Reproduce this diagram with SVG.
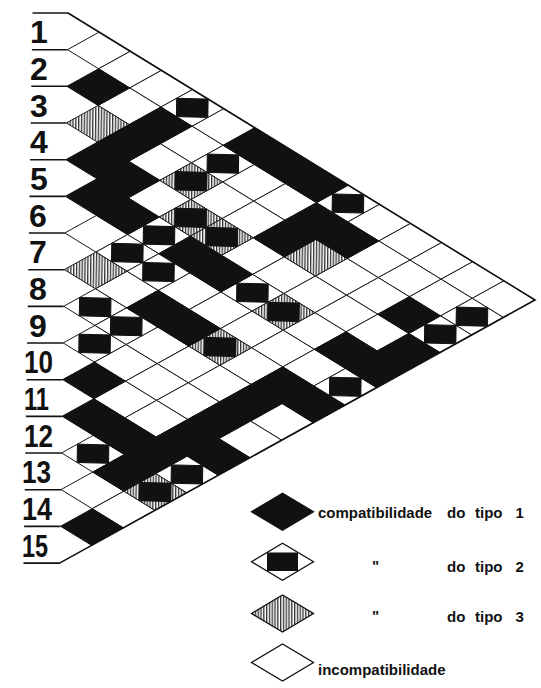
<svg xmlns="http://www.w3.org/2000/svg" xmlns:xlink="http://www.w3.org/1999/xlink" width="541" height="688" viewBox="0 0 541 688">
<style>
.w{fill:#fff;stroke:#1a1a1a}
.b{fill:#111;stroke:#111}
.h{fill:url(#hg);stroke:#1a1a1a}
.r{fill:#111;stroke:#111}
.edge{fill:none;stroke:#111;stroke-width:1.6}
.ll{stroke:#111;stroke-width:1.6}
.lab{font-family:"Liberation Sans",Arial,sans-serif;font-weight:bold;font-size:32px;fill:#111}
.leg{font-family:"Liberation Sans",Arial,sans-serif;font-weight:bold;font-size:15px;fill:#111}
.lw{fill:#fff;stroke:#111;stroke-width:1.3}
.lb{fill:#111;stroke:#111;stroke-width:1.3}
.lh{fill:url(#hl);stroke:#111;stroke-width:1.3}
</style>
<defs>
<polygon id="dm" points="-1,0 0,-1 1,0 0,1" vector-effect="non-scaling-stroke" stroke-width="1"/>
<rect id="rc" x="-0.5" y="-0.5" width="1" height="1" vector-effect="non-scaling-stroke" stroke-width="1"/>
<pattern id="hg" patternUnits="userSpaceOnUse" width="0.09" height="2"><rect width="0.09" height="2" fill="#fff"/><rect width="0.042" height="2" fill="#333"/></pattern>
<pattern id="hl" patternUnits="userSpaceOnUse" width="2.8" height="40"><rect width="2.8" height="40" fill="#fff"/><rect width="1.3" height="40" fill="#333"/></pattern>
</defs>
<rect width="541" height="688" fill="#fff"/>
<g id="labels">
<line class="ll" x1="32.5" y1="13" x2="68" y2="13"/>
<line class="ll" x1="31.9" y1="49.7" x2="67.5" y2="49.7"/>
<line class="ll" x1="31.3" y1="86.3" x2="66.9" y2="86.3"/>
<line class="ll" x1="30.7" y1="123" x2="66.4" y2="123"/>
<line class="ll" x1="30.1" y1="159.7" x2="65.9" y2="159.7"/>
<line class="ll" x1="29.5" y1="196.4" x2="65.3" y2="196.4"/>
<line class="ll" x1="28.9" y1="233" x2="64.8" y2="233"/>
<line class="ll" x1="28.3" y1="269.7" x2="64.3" y2="269.7"/>
<line class="ll" x1="27.7" y1="306.4" x2="63.7" y2="306.4"/>
<line class="ll" x1="27.1" y1="343" x2="63.2" y2="343"/>
<line class="ll" x1="26.5" y1="379.7" x2="62.7" y2="379.7"/>
<line class="ll" x1="25.9" y1="416.4" x2="62.1" y2="416.4"/>
<line class="ll" x1="25.3" y1="453" x2="61.6" y2="453"/>
<line class="ll" x1="24.7" y1="489.7" x2="61.1" y2="489.7"/>
<line class="ll" x1="24.1" y1="526.4" x2="60.5" y2="526.4"/>
<line class="ll" x1="23.5" y1="563.1" x2="60" y2="563.1"/>
<text class="lab" x="30" y="43.3">1</text>
<text class="lab" x="30" y="80">2</text>
<text class="lab" x="30" y="116.7">3</text>
<text class="lab" x="30" y="153.3">4</text>
<text class="lab" x="30" y="190">5</text>
<text class="lab" x="29" y="226.7">6</text>
<text class="lab" x="29" y="263.4">7</text>
<text class="lab" x="29" y="300">8</text>
<text class="lab" x="29" y="336.7">9</text>
<text class="lab" x="24" y="373.4" textLength="29" lengthAdjust="spacingAndGlyphs">10</text>
<text class="lab" x="24" y="410" textLength="25" lengthAdjust="spacingAndGlyphs">11</text>
<text class="lab" x="24" y="446.7" textLength="29" lengthAdjust="spacingAndGlyphs">12</text>
<text class="lab" x="22" y="483.4" textLength="29" lengthAdjust="spacingAndGlyphs">13</text>
<text class="lab" x="22" y="520" textLength="30" lengthAdjust="spacingAndGlyphs">14</text>
<text class="lab" x="22" y="556.7" textLength="26" lengthAdjust="spacingAndGlyphs">15</text>
</g>
<g id="matrix" transform="matrix(31.4,0.8,-0.267,18.33,68.27,-5.33)">
<g id="white-cells" class="w">
<use href="#dm" x="1" y="3"/><use href="#dm" x="2" y="4"/><use href="#dm" x="3" y="5"/><use href="#dm" x="5" y="7"/>
<use href="#dm" x="10" y="12"/><use href="#dm" x="11" y="13"/><use href="#dm" x="12" y="14"/><use href="#dm" x="13" y="15"/><use href="#dm" x="14" y="16"/>
<use href="#dm" x="2" y="6"/><use href="#dm" x="4" y="8"/><use href="#dm" x="6" y="10"/><use href="#dm" x="7" y="11"/><use href="#dm" x="10" y="14"/><use href="#dm" x="11" y="15"/><use href="#dm" x="12" y="16"/>
<use href="#dm" x="3" y="9"/><use href="#dm" x="5" y="11"/><use href="#dm" x="6" y="12"/><use href="#dm" x="9" y="15"/><use href="#dm" x="10" y="16"/>
<use href="#dm" x="3" y="11"/><use href="#dm" x="6" y="14"/><use href="#dm" x="7" y="15"/><use href="#dm" x="8" y="16"/><use href="#dm" x="9" y="17"/><use href="#dm" x="10" y="18"/>
<use href="#dm" x="8" y="18"/>
<use href="#dm" x="1" y="13"/><use href="#dm" x="4" y="16"/><use href="#dm" x="5" y="17"/><use href="#dm" x="6" y="18"/><use href="#dm" x="7" y="19"/><use href="#dm" x="8" y="20"/>
<use href="#dm" x="2" y="16"/><use href="#dm" x="6" y="20"/>
<use href="#dm" x="3" y="19"/><use href="#dm" x="4" y="20"/><use href="#dm" x="5" y="21"/><use href="#dm" x="7" y="23"/>
<use href="#dm" x="2" y="20"/><use href="#dm" x="3" y="21"/><use href="#dm" x="4" y="22"/><use href="#dm" x="6" y="24"/>
<use href="#dm" x="2" y="22"/><use href="#dm" x="3" y="23"/>
<use href="#dm" x="1" y="27"/><use href="#dm" x="2" y="28"/>
</g>
<g id="type2-cells" class="w">
<use href="#dm" x="4" y="6"/><use href="#dm" x="9" y="11"/><use href="#dm" x="5" y="9"/><use href="#dm" x="13" y="17"/><use href="#dm" x="12" y="18"/>
<use href="#dm" x="3" y="13"/><use href="#dm" x="6" y="16"/><use href="#dm" x="2" y="14"/><use href="#dm" x="3" y="15"/><use href="#dm" x="9" y="21"/>
<use href="#dm" x="1" y="17"/><use href="#dm" x="2" y="18"/><use href="#dm" x="1" y="19"/><use href="#dm" x="4" y="26"/><use href="#dm" x="1" y="25"/>
</g>
<g id="hatched-cells" class="h">
<use href="#dm" x="1" y="7"/><use href="#dm" x="8" y="14"/><use href="#dm" x="1" y="15"/>
<use href="#dm" x="4" y="10"/><use href="#dm" x="4" y="12"/><use href="#dm" x="5" y="13"/><use href="#dm" x="7" y="17"/><use href="#dm" x="5" y="19"/><use href="#dm" x="3" y="27"/>
</g>
<g id="black-cells" class="b">
<use href="#dm" x="6" y="8"/><use href="#dm" x="7" y="9"/><use href="#dm" x="8" y="10"/>
<use href="#dm" x="1" y="5"/><use href="#dm" x="3" y="7"/><use href="#dm" x="8" y="12"/><use href="#dm" x="9" y="13"/>
<use href="#dm" x="2" y="8"/><use href="#dm" x="7" y="13"/><use href="#dm" x="11" y="17"/>
<use href="#dm" x="1" y="9"/><use href="#dm" x="2" y="10"/><use href="#dm" x="11" y="19"/>
<use href="#dm" x="1" y="11"/><use href="#dm" x="2" y="12"/><use href="#dm" x="4" y="14"/><use href="#dm" x="5" y="15"/><use href="#dm" x="9" y="19"/><use href="#dm" x="10" y="20"/>
<use href="#dm" x="3" y="17"/><use href="#dm" x="4" y="18"/><use href="#dm" x="7" y="21"/><use href="#dm" x="8" y="22"/>
<use href="#dm" x="6" y="22"/>
<use href="#dm" x="5" y="23"/>
<use href="#dm" x="1" y="21"/><use href="#dm" x="4" y="24"/><use href="#dm" x="5" y="25"/>
<use href="#dm" x="1" y="23"/><use href="#dm" x="2" y="24"/><use href="#dm" x="3" y="25"/>
<use href="#dm" x="2" y="26"/>
<use href="#dm" x="1" y="29"/>
</g>
<g id="rects" class="r">
<use href="#rc" x="4" y="6"/><use href="#rc" x="9" y="11"/><use href="#rc" x="5" y="9"/><use href="#rc" x="13" y="17"/><use href="#rc" x="12" y="18"/>
<use href="#rc" x="3" y="13"/><use href="#rc" x="6" y="16"/><use href="#rc" x="2" y="14"/><use href="#rc" x="3" y="15"/><use href="#rc" x="9" y="21"/>
<use href="#rc" x="1" y="17"/><use href="#rc" x="2" y="18"/><use href="#rc" x="1" y="19"/><use href="#rc" x="4" y="26"/><use href="#rc" x="1" y="25"/>
<use href="#rc" x="4" y="10"/><use href="#rc" x="4" y="12"/><use href="#rc" x="5" y="13"/><use href="#rc" x="7" y="17"/><use href="#rc" x="5" y="19"/><use href="#rc" x="3" y="27"/>
</g>
<polyline class="edge" vector-effect="non-scaling-stroke" points="0,1 15,16 0,31"/>
</g>
<g id="legend-1">
<polygon class="lb" points="251.5,511.7 282.5,493.2 313.5,511.7 282.5,530.2"/>
<text class="leg" x="318" y="517.5">compatibilidade <tspan x="447">do</tspan> <tspan x="475">tipo</tspan> <tspan x="515.5">1</tspan></text>
</g>
<g id="legend-2">
<polygon class="lw" points="251.5,561.7 282.5,543.2 313.5,561.7 282.5,580.2"/>
<rect x="267" y="552.5" width="31" height="18.5" fill="#111"/>
<text class="leg" x="372" y="571">"</text>
<text class="leg" y="572"><tspan x="447">do</tspan> <tspan x="475">tipo</tspan> <tspan x="515.5">2</tspan></text>
</g>
<g id="legend-3">
<polygon class="lh" points="251.5,613.5 282.5,595 313.5,613.5 282.5,632"/>
<text class="leg" x="372" y="621">"</text>
<text class="leg" y="622"><tspan x="447">do</tspan> <tspan x="475">tipo</tspan> <tspan x="515.5">3</tspan></text>
</g>
<g id="legend-4">
<polygon class="lw" points="251.5,662.5 282.5,644 313.5,662.5 282.5,681"/>
<text class="leg" x="318" y="674.5">incompatibilidade</text>
</g>
</svg>
